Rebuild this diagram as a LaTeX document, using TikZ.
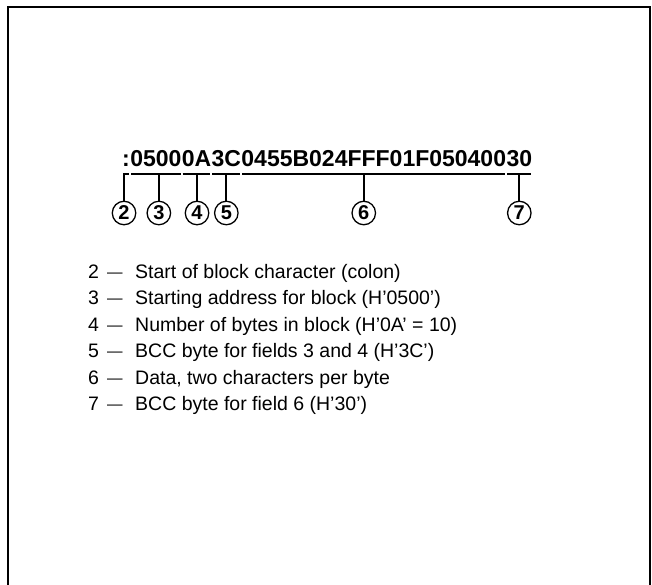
\documentclass[tikz,border=0pt]{standalone}
\usepackage{fontspec}
\setmainfont{Liberation Sans}
\usetikzlibrary{positioning}

\begin{document}
\begin{tikzpicture}[x=1pt, y=-1pt,
    field/.style={inner sep=0pt, anchor=base west, font=\fontsize{23}{23}\selectfont\bfseries},
    ring/.style={circle, draw, line width=1.3pt, inner sep=0pt, minimum size=23.5pt, font=\fontsize{20}{20}\selectfont\bfseries},
    uline/.style={line width=1.8pt},
    item/.style={inner sep=0pt, anchor=base west, font=\fontsize{19.5}{19.5}\selectfont},
    dashmark/.style={inner sep=0pt, anchor=base west, font=\fontsize{15.5}{15.5}\selectfont, yshift=1pt}
]
    \useasboundingbox (0,0) rectangle (652,585);
    % Frame
    \draw[line width=1.8pt] (8,585) -- (8,7) -- (650,7) -- (650,585);

    % Record fields
    \node[field] (colon) at (122,167) {:};
    \node[field] (addr) at (colon.base east) {0500};
    \node[field] (count) at (addr.base east) {0A};
    \node[field] (hbcc) at (count.base east) {3C};
    \node[field] (data) at (hbcc.base east) {0455B024FFF01F050400};
    \node[field] (dbcc) at (data.base east) {30};

    % Underlines
    \foreach \f in {colon,addr,count,hbcc,data,dbcc}
        \draw[uline] ([xshift=1pt,yshift=-7pt]\f.base west) -- ([xshift=-1pt,yshift=-7pt]\f.base east);

    % Field numbers
    \node[ring, xshift=-2pt] (n2) at (colon.base |- 0,213) {2};
    \node[ring, xshift=3pt] (n3) at (addr.base |- 0,213) {3};
    \node[ring, xshift=0.5pt] (n4) at (count.base |- 0,213) {4};
    \node[ring] (n5) at (hbcc.base |- 0,213) {5};
    \node[ring, xshift=-10pt] (n6) at (data.base |- 0,213) {6};
    \node[ring] (n7) at (dbcc.base |- 0,213) {7};

    \foreach \n in {n2,n3,n4,n5,n6,n7}
        \draw[uline] (\n.north |- 0,174) -- (\n);

    % Legend
    \node[item] (k2) at (88,278) {2};
    \node[dashmark] (d2) at (107,278) {---};
    \node[item] (t2) at (135,278) {Start of block character (colon)};
    \node[item] (k3) at (88,304.5) {3};
    \node[dashmark] (d3) at (107,304.5) {---};
    \node[item] (t3) at (135,304.5) {Starting address for block (H'0500')};
    \node[item] (k4) at (88,331) {4};
    \node[dashmark] (d4) at (107,331) {---};
    \node[item] (t4) at (135,331) {Number of bytes in block (H'0A' = 10)};
    \node[item] (k5) at (88,357.5) {5};
    \node[dashmark] (d5) at (107,357.5) {---};
    \node[item] (t5) at (135,357.5) {BCC byte for fields 3 and 4 (H'3C')};
    \node[item] (k6) at (88,384) {6};
    \node[dashmark] (d6) at (107,384) {---};
    \node[item] (t6) at (135,384) {Data, two characters per byte};
    \node[item] (k7) at (88,410) {7};
    \node[dashmark] (d7) at (107,410) {---};
    \node[item] (t7) at (135,410) {BCC byte for field 6 (H'30')};
\end{tikzpicture}
\end{document}
